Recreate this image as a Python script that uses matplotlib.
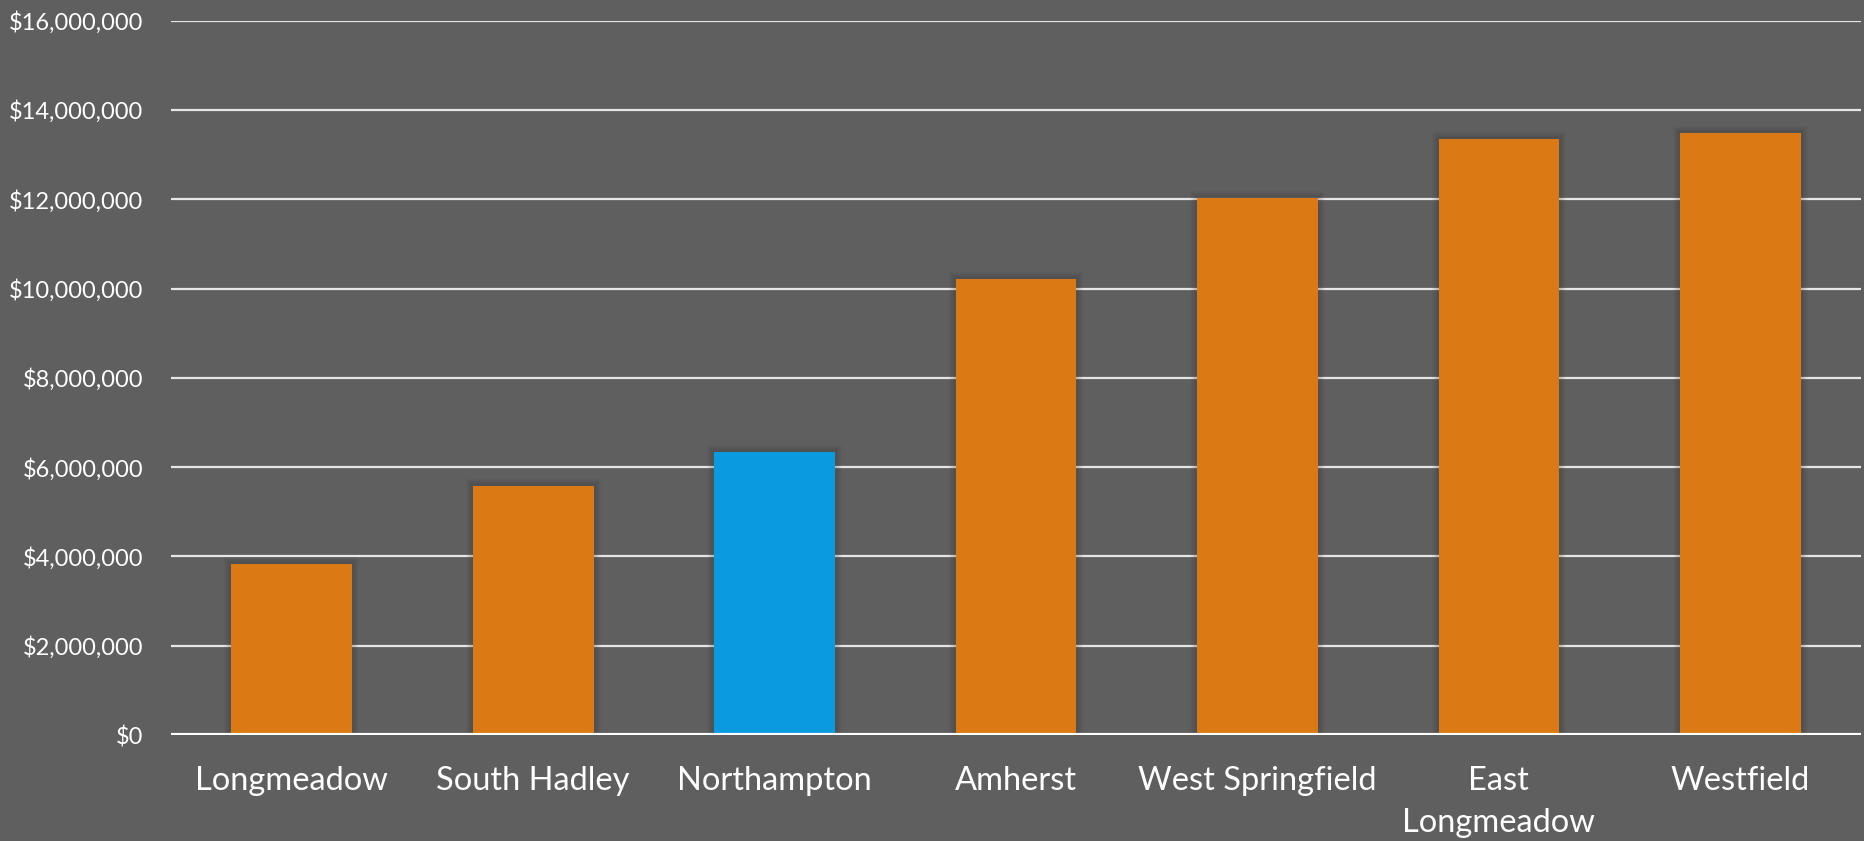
import matplotlib
matplotlib.use("Agg")
import matplotlib.pyplot as plt
import matplotlib.patheffects as pe
from matplotlib.ticker import FuncFormatter

categories = ["Longmeadow", "South Hadley", "Northampton", "Amherst",
              "West Springfield", "East\nLongmeadow", "Westfield"]
values = [3840000, 5570000, 6340000, 10220000, 12030000, 13350000, 13480000]
highlight = "Northampton"
ytick_values = [0, 2000000, 4000000, 6000000, 8000000, 10000000,
                12000000, 14000000, 16000000]

BG = "#5f5f5f"
ORANGE = "#db7a15"
BLUE = "#0a9adf"

plt.rcParams['font.family'] = ['Lato', 'DejaVu Sans']

fig = plt.figure(figsize=(18.65, 8.41), dpi=100, facecolor=BG)
ax = fig.add_axes([0.0917, 0.126, 0.9062, 0.8494], facecolor=BG)

colors = [BLUE if c == highlight else ORANGE for c in categories]
x = list(range(len(categories)))

ax.set_ylim(0, 16000000)
ax.set_xlim(-0.5, len(categories) - 0.5)
ax.set_yticks(ytick_values)
ax.yaxis.set_major_formatter(FuncFormatter(lambda v, p: f"${v:,.0f}"))
ax.grid(axis='y', color='#e6e6e6', linewidth=1.6, zorder=0)
ax.set_axisbelow(True)

bars = ax.bar(x, values, width=0.5, color=colors, zorder=3)
for b in bars:
    b.set_path_effects([
        pe.Stroke(linewidth=10, foreground='#202020', alpha=0.05),
        pe.Stroke(linewidth=7, foreground='#202020', alpha=0.07),
        pe.Stroke(linewidth=4, foreground='#202020', alpha=0.09),
        pe.Normal()])

ax.axhline(0, color='white', linewidth=3, zorder=4)

for s in ax.spines.values():
    s.set_visible(False)

ax.set_xticks(x)
ax.set_xticklabels(categories, fontsize=23.5, color='white', linespacing=1.5, va='top')
ax.tick_params(axis='x', length=0, pad=22)
ax.tick_params(axis='y', length=0, pad=20, labelsize=17, labelcolor='white')

fig.savefig("out.png", dpi=100, facecolor=BG)
